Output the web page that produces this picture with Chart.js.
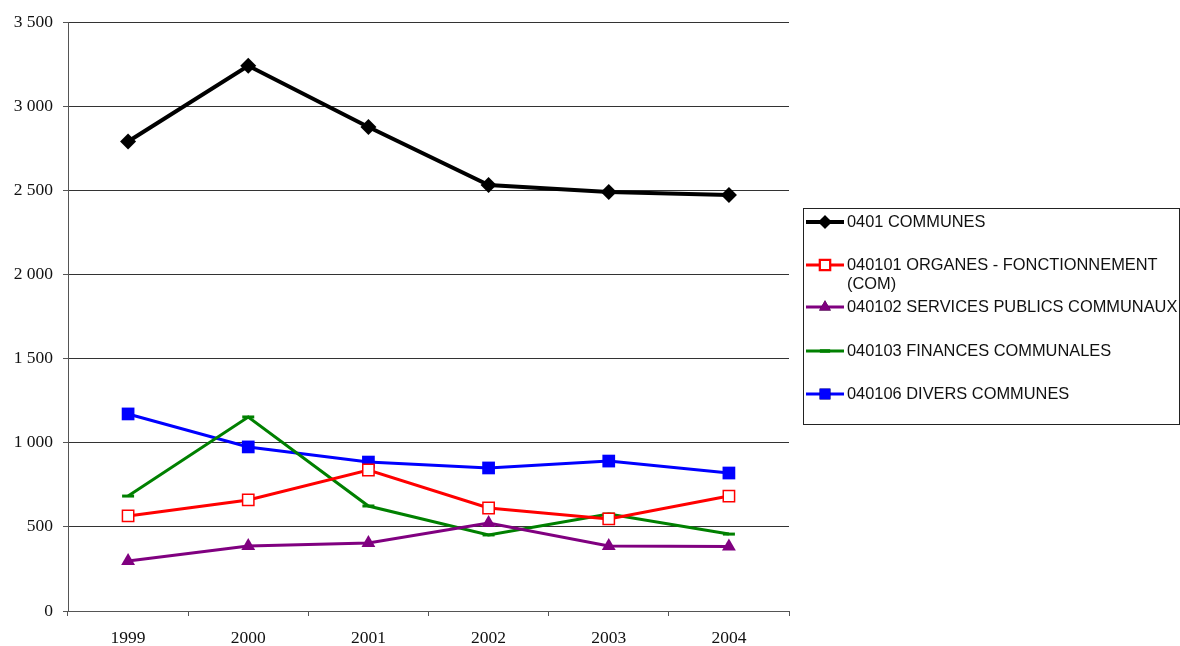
<!DOCTYPE html>
<html>
<head>
<meta charset="utf-8">
<script src="https://cdn.jsdelivr.net/npm/chart.js@4"></script>
<style>
  html, body { margin: 0; padding: 0; background: #fff; }
  #wrap { width: 1180px; height: 646px; position: relative; }
</style>
</head>
<body>
<div id="wrap"><canvas id="chart"></canvas></div>
<script>
const years = ['1999', '2000', '2001', '2002', '2003', '2004'];

const communes = [2790, 3240, 2876, 2531, 2490, 2472];
const organes = [565, 660, 838, 612, 547, 683];
const servicesPublics = [297, 386, 404, 523, 386, 384];
const finances = [683, 1153, 624, 452, 576, 457];
const divers = [1171, 975, 885, 850, 891, 820];

const seriesNames = [
    '0401 COMMUNES',
    '040101 ORGANES - FONCTIONNEMENT (COM)',
    '040102 SERVICES PUBLICS COMMUNAUX',
    '040103 FINANCES COMMUNALES',
    '040106 DIVERS COMMUNES'
];

const yTicks = [0, 500, 1000, 1500, 2000, 2500, 3000, 3500];

function fmt(v) {
    return String(v).replace(/\B(?=(\d{3})+(?!\d))/g, ' ');
}

// legend drawn by hand so it can wrap like the original
const boxLegend = {
    id: 'boxLegend',
    afterDraw(chart) {
        const ctx = chart.ctx;
        ctx.save();
        ctx.strokeStyle = '#222';
        ctx.lineWidth = 1;
        ctx.strokeRect(803.5, 208.5, 376, 216);

        const rows = [
            { y: 222, lines: ['0401 COMMUNES'] },
            { y: 265, lines: ['040101 ORGANES - FONCTIONNEMENT', '(COM)'] },
            { y: 307, lines: ['040102 SERVICES PUBLICS COMMUNAUX'] },
            { y: 351, lines: ['040103 FINANCES COMMUNALES'] },
            { y: 394, lines: ['040106 DIVERS COMMUNES'] }
        ];
        chart.data.datasets.forEach((ds, i) => {
            const r = rows[i];
            ctx.strokeStyle = ds.borderColor;
            ctx.lineWidth = ds.borderWidth;
            ctx.beginPath();
            ctx.moveTo(806, r.y);
            ctx.lineTo(844, r.y);
            ctx.stroke();
            Chart.helpers.drawPoint(ctx, {
                pointStyle: ds.pointStyle,
                radius: ds.pointRadius * 0.85,
                borderWidth: ds.pointBorderWidth
            }, 825, r.y);
            ctx.fillStyle = ds.pointBackgroundColor;
            ctx.strokeStyle = ds.pointBorderColor;
            ctx.lineWidth = ds.pointBorderWidth;
            ctx.fill();
            if (ds.pointBorderWidth) ctx.stroke();

            ctx.fillStyle = '#111';
            ctx.font = '16.4px "Liberation Sans", Arial, sans-serif';
            ctx.textBaseline = 'middle';
            ctx.textAlign = 'left';
            r.lines.forEach((t, k) => ctx.fillText(t, 847, r.y + k * 19));
        });
        ctx.restore();
    }
};

const datasets = [
    { label: seriesNames[0], data: communes, borderColor: '#000000', borderWidth: 4,
      pointStyle: 'rectRot', pointRadius: 8, pointBackgroundColor: '#000000',
      pointBorderColor: '#000000', pointBorderWidth: 0 },
    { label: seriesNames[1], data: organes, borderColor: '#ff0000', borderWidth: 3,
      pointStyle: 'rect', pointRadius: 8, pointBackgroundColor: '#ffffff',
      pointBorderColor: '#ff0000', pointBorderWidth: 1.5 },
    { label: seriesNames[2], data: servicesPublics, borderColor: '#800080', borderWidth: 3,
      pointStyle: 'triangle', pointRadius: 8, pointBackgroundColor: '#800080',
      pointBorderColor: '#800080', pointBorderWidth: 0 },
    { label: seriesNames[3], data: finances, borderColor: '#008000', borderWidth: 3,
      pointStyle: 'line', pointRadius: 6, pointBackgroundColor: '#008000',
      pointBorderColor: '#008000', pointBorderWidth: 3 },
    { label: seriesNames[4], data: divers, borderColor: '#0000ff', borderWidth: 3,
      pointStyle: 'rect', pointRadius: 9, pointBackgroundColor: '#0000ff',
      pointBorderColor: '#0000ff', pointBorderWidth: 0 }
];
datasets.forEach(d => { d.tension = 0; d.fill = false; d.pointHoverRadius = d.pointRadius; });

const serif = '"Liberation Serif", "Times New Roman", serif';

new Chart(document.getElementById('chart'), {
    type: 'line',
    data: { labels: years, datasets: datasets },
    options: {
        responsive: true,
        maintainAspectRatio: false,
        animation: false,
        events: [],
        layout: { padding: { left: 0, top: 22, right: 391, bottom: 0 } },
        plugins: {
            legend: { display: false },
            tooltip: { enabled: false }
        },
        scales: {
            x: {
                offset: true,
                grid: { display: true, drawOnChartArea: false, offset: true,
                        color: '#555', tickLength: 5, tickColor: '#555' },
                border: { display: true, color: '#555', width: 1 },
                ticks: { color: '#111', padding: 12, font: { family: serif, size: 17.5 } },
                afterFit(scale) { scale.height = 35; }
            },
            y: {
                min: 0,
                max: 3500,
                afterBuildTicks(scale) { scale.ticks = yTicks.map(v => ({ value: v })); },
                grid: { color: '#333', lineWidth: 1, tickLength: 5, tickColor: '#555' },
                border: { display: true, color: '#555', width: 1 },
                ticks: { color: '#111', padding: 10, callback: v => fmt(v),
                         font: { family: serif, size: 17.5 } },
                afterFit(scale) { scale.width = 68; }
            }
        }
    },
    plugins: [boxLegend]
});
</script>
</body>
</html>
